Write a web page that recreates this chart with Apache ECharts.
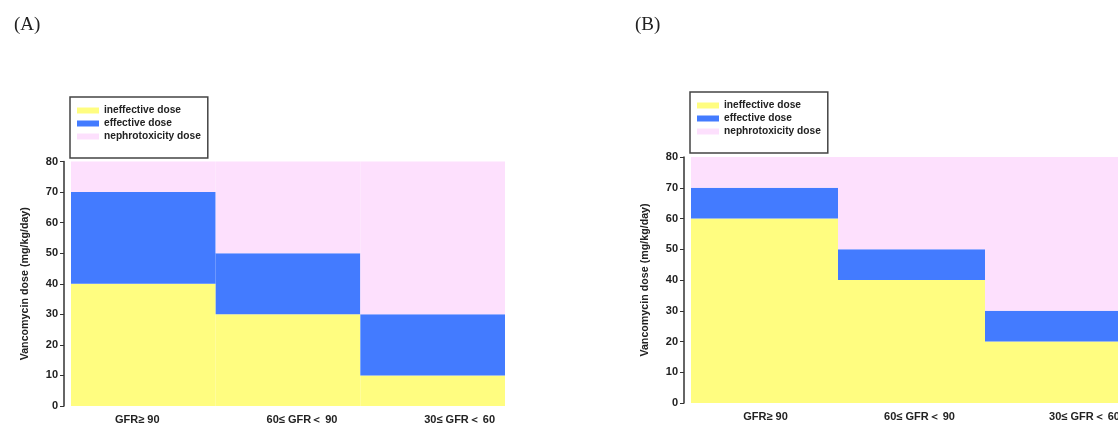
<!DOCTYPE html>
<html><head><meta charset="utf-8">
<script src="https://cdn.jsdelivr.net/npm/echarts@6/dist/echarts.min.js"></script>
<style>html,body{margin:0;padding:0;background:#fff}#c{width:1118px;height:424px}</style>
</head><body><div id="c"></div>
<script>
const categories = ['GFR\u2265 90', '60\u2264 GFR\uff1c 90', '30\u2264 GFR\uff1c 60'];
const seriesNames = ['ineffective dose', 'effective dose', 'nephrotoxicity dose'];
const aIneffective = [40, 30, 10];
const aEffective = [30, 20, 20];
const aNephro = [10, 30, 50];
const bIneffective = [60, 40, 20];
const bEffective = [10, 10, 10];
const bNephro = [10, 30, 50];
const yTicks = [0, 10, 20, 30, 40, 50, 60, 70, 80];

const colors = ['#FFFD80', '#437BFF', '#FDE0FD'];
const font = 'Liberation Sans, Arial, sans-serif';
const chart = echarts.init(document.getElementById('c'));

function xAxisFor(idx, shifts) {
  return {
    type: 'category', gridIndex: idx,
    data: categories.map((c, i) => ({
      value: c,
      textStyle: { padding: shifts[i] >= 0 ? [0, 0, 0, shifts[i] * 2] : [0, -shifts[i] * 2, 0, 0] }
    })),
    axisLine: { show: false }, axisTick: { show: false },
    axisLabel: { margin: 8, fontSize: 11, fontWeight: 'bold', color: '#222', fontFamily: font }
  };
}
function yAxisFor(idx) {
  return {
    type: 'value', gridIndex: idx, min: yTicks[0], max: yTicks[yTicks.length - 1], interval: 10,
    offset: 7,
    name: 'Vancomycin dose (mg/kg/day)', nameLocation: 'middle', nameGap: 33, nameRotate: 90,
    nameTextStyle: { fontSize: 10.7, fontWeight: 'bold', color: '#222', fontFamily: font },
    axisLine: { show: true, lineStyle: { color: '#333', width: 1.5 } },
    axisTick: { show: true, length: 4, lineStyle: { color: '#333' } },
    axisLabel: { margin: 6, fontSize: 11, fontWeight: 'bold', color: '#222', fontFamily: font },
    splitLine: { show: false }
  };
}
function seriesFor(idx, vals) {
  return vals.map((v, i) => ({
    name: seriesNames[i], type: 'bar', stack: 'p' + idx, xAxisIndex: idx, yAxisIndex: idx,
    data: v, barWidth: '100%', barCategoryGap: '0%',
    itemStyle: { color: colors[i] }, emphasis: { disabled: true }, silent: true
  }));
}
function legendFor(left, top) {
  return {
    left: left, top: top, orient: 'vertical', data: seriesNames,
    itemWidth: 22, itemHeight: 6, itemGap: 0, icon: 'rect',
    padding: [7, 7, 15, 7],
    borderColor: '#444', borderWidth: 1.5,
    textStyle: { fontSize: 10.2, fontWeight: 'bold', color: '#222', fontFamily: font, lineHeight: 13 },
    selectedMode: false
  };
}

chart.setOption({
  animation: false,
  title: [
    { text: '(A)', left: 9, top: 11, textStyle: { fontFamily: 'Liberation Serif, Times New Roman, serif', fontWeight: 'normal', fontSize: 19, color: '#222' } },
    { text: '(B)', left: 630, top: 11, textStyle: { fontFamily: 'Liberation Serif, Times New Roman, serif', fontWeight: 'normal', fontSize: 19, color: '#222' } }
  ],
  legend: [legendFor(70, 97), legendFor(690, 92)],
  grid: [
    { left: 71, top: 161.5, width: 434, height: 244.5, outerBoundsMode: 'none' },
    { left: 691, top: 157, width: 441, height: 246, outerBoundsMode: 'none' }
  ],
  xAxis: [xAxisFor(0, [-6, 14, 27]), xAxisFor(1, [1, 8, 26])],
  yAxis: [yAxisFor(0), yAxisFor(1)],
  series: [].concat(
    seriesFor(0, [aIneffective, aEffective, aNephro]),
    seriesFor(1, [bIneffective, bEffective, bNephro])
  )
});
</script></body></html>
